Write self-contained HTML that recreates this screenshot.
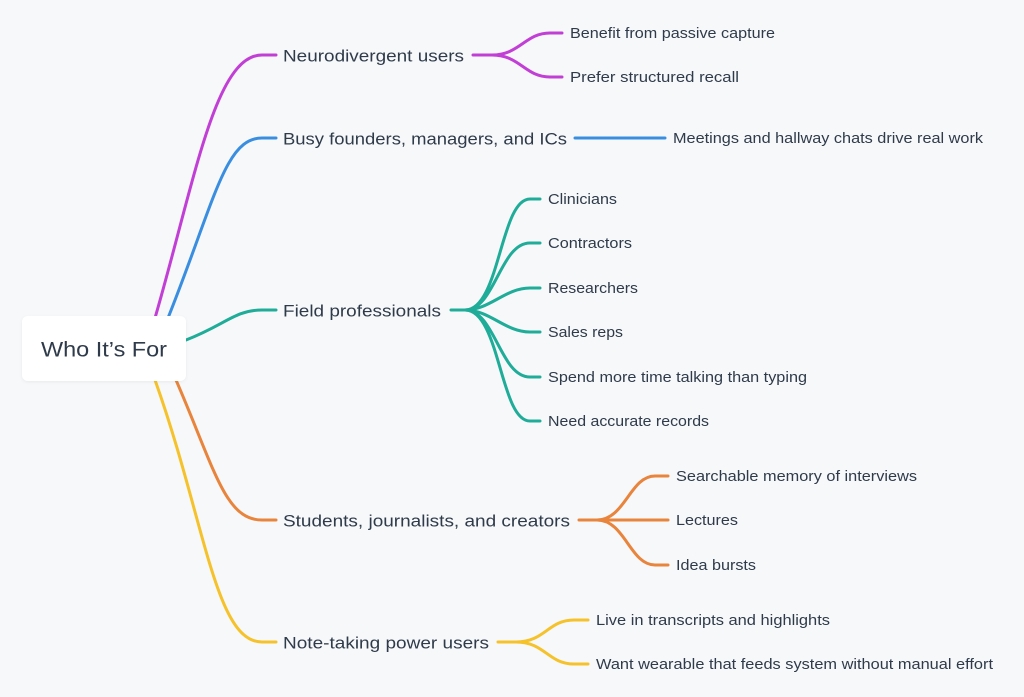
<!DOCTYPE html>
<html><head><meta charset="utf-8"><style>
html,body{margin:0;padding:0;background:#f7f8fa;}
svg{display:block}
text{font-family:"Liberation Sans",sans-serif;fill:#2f3b4a;dominant-baseline:central}
.m{font-size:17px}.c{font-size:14.5px}
path{fill:none;stroke-width:3;stroke-linecap:round}
</style></head><body>
<svg width="1024" height="697" viewBox="0 0 1024 697">
<defs><filter id="sh" x="-10%" y="-20%" width="120%" height="140%"><feDropShadow dx="0" dy="1" stdDeviation="1.5" flood-color="#000" flood-opacity="0.06"/></filter></defs>
<rect width="1024" height="697" fill="#f7f8fa"/>
<path stroke="#c23fd6" d="M155 318 C195 180,215 55,262 55 L276 55"/>
<path stroke="#3a8ee0" d="M168 318 C215 200,225 138,262 138 L276 138"/>
<path stroke="#1fac98" d="M186 340 C225 325,235 310,262 310 L276 310"/>
<path stroke="#e8843c" d="M176 380 C215 470,225 520,262 520 L276 520"/>
<path stroke="#f5c22b" d="M155 380 C205 520,215 642,262 642 L276 642"/>
<rect x="22" y="316" width="164" height="65" rx="6" fill="#fff" filter="url(#sh)"/>
<text x="41" y="350" style="font-size:21px" textLength="126" lengthAdjust="spacingAndGlyphs">Who It’s For</text>
<text class="m" x="283" y="56" textLength="181" lengthAdjust="spacingAndGlyphs">Neurodivergent users</text>
<text class="m" x="283" y="139" textLength="284" lengthAdjust="spacingAndGlyphs">Busy founders, managers, and ICs</text>
<text class="m" x="283" y="311" textLength="158" lengthAdjust="spacingAndGlyphs">Field professionals</text>
<text class="m" x="283" y="521" textLength="287" lengthAdjust="spacingAndGlyphs">Students, journalists, and creators</text>
<text class="m" x="283" y="643" textLength="206" lengthAdjust="spacingAndGlyphs">Note-taking power users</text>
<path stroke="#c23fd6" d="M473 55 L492 55 C520 55,525 33,550 33 L562 33 M492 55 C520 55,525 77,550 77 L562 77"/>
<text class="c" x="570" y="34" textLength="205" lengthAdjust="spacingAndGlyphs">Benefit from passive capture</text>
<text class="c" x="570" y="78" textLength="169" lengthAdjust="spacingAndGlyphs">Prefer structured recall</text>
<path stroke="#3a8ee0" d="M575 138 L665 138"/>
<text class="c" x="673" y="139" textLength="310" lengthAdjust="spacingAndGlyphs">Meetings and hallway chats drive real work</text>
<g stroke="#1fac98">
<path d="M451 310 L465 310 C500 310,500 199,530 199 L540 199"/>
<path d="M465 310 C495 310,500 243,530 243 L540 243"/>
<path d="M465 310 C490 310,505 288,530 288 L540 288"/>
<path d="M465 310 C490 310,505 332,530 332 L540 332"/>
<path d="M465 310 C495 310,500 377,530 377 L540 377"/>
<path d="M465 310 C500 310,500 421,530 421 L540 421"/>
</g>
<text class="c" x="548" y="200" textLength="69" lengthAdjust="spacingAndGlyphs">Clinicians</text>
<text class="c" x="548" y="244" textLength="84" lengthAdjust="spacingAndGlyphs">Contractors</text>
<text class="c" x="548" y="289" textLength="90" lengthAdjust="spacingAndGlyphs">Researchers</text>
<text class="c" x="548" y="333" textLength="75" lengthAdjust="spacingAndGlyphs">Sales reps</text>
<text class="c" x="548" y="378" textLength="259" lengthAdjust="spacingAndGlyphs">Spend more time talking than typing</text>
<text class="c" x="548" y="422" textLength="161" lengthAdjust="spacingAndGlyphs">Need accurate records</text>
<g stroke="#e8843c">
<path d="M579 520 L597 520 C625 520,630 476,655 476 L668 476"/>
<path d="M597 520 L668 520"/>
<path d="M597 520 C625 520,630 565,655 565 L668 565"/>
</g>
<text class="c" x="676" y="477" textLength="241" lengthAdjust="spacingAndGlyphs">Searchable memory of interviews</text>
<text class="c" x="676" y="521" textLength="62" lengthAdjust="spacingAndGlyphs">Lectures</text>
<text class="c" x="676" y="566" textLength="80" lengthAdjust="spacingAndGlyphs">Idea bursts</text>
<g stroke="#f5c22b">
<path d="M498 642 L516 642 C545 642,548 620,574 620 L588 620"/>
<path d="M516 642 C545 642,548 664,574 664 L588 664"/>
</g>
<text class="c" x="596" y="621" textLength="234" lengthAdjust="spacingAndGlyphs">Live in transcripts and highlights</text>
<text class="c" x="596" y="665" textLength="397" lengthAdjust="spacingAndGlyphs">Want wearable that feeds system without manual effort</text>
</svg>
</body></html>
